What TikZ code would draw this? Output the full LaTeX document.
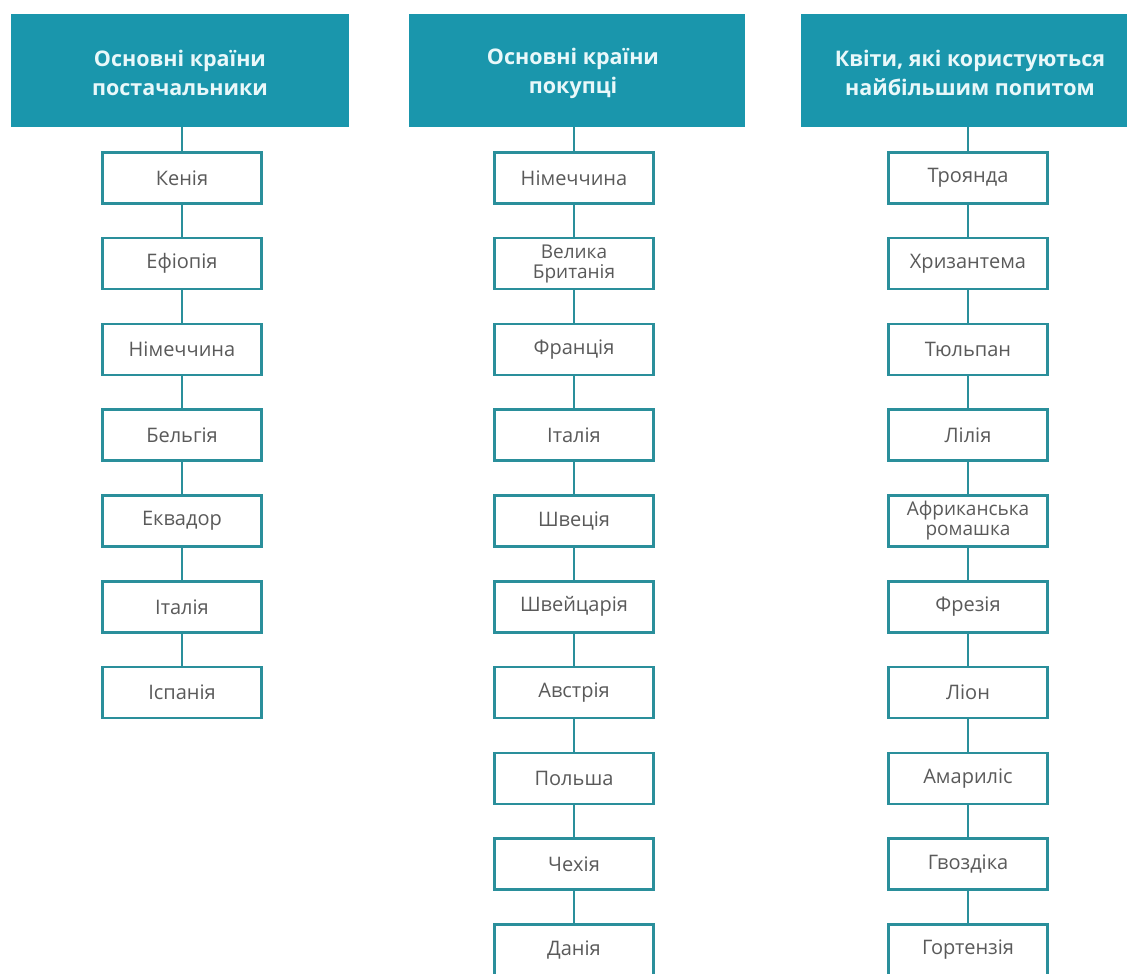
\documentclass[tikz,border=0pt]{standalone}
\usepackage{fontspec}
\setmainfont{Open Sans}
\definecolor{hdr}{HTML}{1A96AC}
\definecolor{edge}{HTML}{2A8F9B}
\definecolor{txt}{HTML}{5A5A5A}
\definecolor{htxt}{HTML}{E9F8FA}
\tikzset{
  hdrbox/.style={fill=hdr, draw=none, minimum height=113pt, inner sep=0pt},
  hdrtext/.style={text=htxt, font=\fontsize{21.5}{29}\selectfont\bfseries, align=center, inner sep=0pt},
  itembox/.style={draw=edge, line width=2.6pt, fill=white, text=txt, font=\fontsize{20}{19.5}\selectfont, align=center, minimum width=159pt, minimum height=51pt, inner sep=0pt, anchor=north},
  oneline/.style={},
  twoline/.style={font=\fontsize{19}{20}\selectfont},
  link/.style={draw=edge, line width=2.6pt}
}
\begin{document}
\begin{tikzpicture}[x=1pt,y=-1pt]
\useasboundingbox (0,0) rectangle (1127,974);
% headers
\node[hdrbox, minimum width=338pt] (h1) at (180,70.5) {};
\node[hdrtext] (h1t) at (180,73) {Основні країни\\постачальники};
\node[hdrbox, minimum width=336pt] (h2) at (577,70.5) {};
\node[hdrtext] (h2t) at (573,73) {Основні країни\\покупці};
\node[hdrbox, minimum width=330pt] (h3) at (966,70.5) {};
\node[hdrtext] (h3t) at (970,73) {Квіти, які користуються\\найбільшим попитом};
% column 1
\foreach \t [count=\i from 0] in {Кенія,Ефіопія,Німеччина,Бельгія,Еквадор,Італія,Іспанія}{
  \node[itembox] (a\i) at (182,{151+85.8*\i}) {\t};
}
% column 2
\foreach \t/\s [count=\i from 0] in {Німеччина/oneline,{Велика\\Британія}/twoline,Франція/oneline,Італія/oneline,Швеція/oneline,Швейцарія/oneline,Австрія/oneline,Польша/oneline,Чехія/oneline,Данія/oneline}{
  \node[itembox, \s] (b\i) at (574,{151+85.8*\i}) {\t};
}
% column 3
\foreach \t/\s [count=\i from 0] in {Троянда/oneline,Хризантема/oneline,Тюльпан/oneline,Лілія/oneline,{Африканська\\ромашка}/twoline,Фрезія/oneline,Ліон/oneline,Амариліс/oneline,Гвоздіка/oneline,Гортензія/oneline}{
  \node[itembox, \s] (c\i) at (968,{151+85.8*\i}) {\t};
}
% connectors
\draw[link] (h1.south -| a0.north) -- (a0.north);
\draw[link] (h2.south -| b0.north) -- (b0.north);
\draw[link] (h3.south -| c0.north) -- (c0.north);
\foreach \i [evaluate=\i as \j using int(\i+1)] in {0,...,5}{
  \draw[link] (a\i.south) -- (a\j.north);
}
\foreach \i [evaluate=\i as \j using int(\i+1)] in {0,...,8}{
  \draw[link] (b\i.south) -- (b\j.north);
  \draw[link] (c\i.south) -- (c\j.north);
}
\end{tikzpicture}
\end{document}
